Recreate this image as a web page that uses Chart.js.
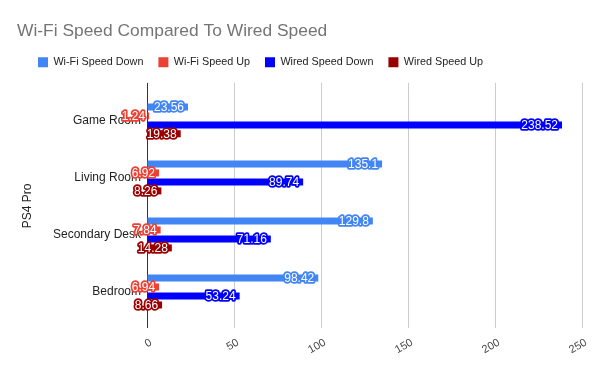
<!DOCTYPE html>
<html lang="en">
<head>
<meta charset="UTF-8">
<title>Wi-Fi Speed Compared To Wired Speed</title>
<script src="https://cdn.jsdelivr.net/npm/chart.js@4.4.1/dist/chart.umd.min.js"></script>
<style>
  * { margin: 0; padding: 0; box-sizing: border-box; }
  body { background: #fff; width: 600px; height: 371px; overflow: hidden; }
  canvas { display: block; }
</style>
</head>
<body>
<canvas id="chart" width="600" height="371"></canvas>
<script>
  const rooms = ['Game Room', 'Living Room', 'Secondary Desk', 'Bedroom'];
  const wifiDown = [23.56, 135.1, 129.8, 98.42];
  const wifiUp = [1.24, 6.92, 7.84, 6.94];
  const wiredDown = [238.52, 89.74, 71.16, 53.24];
  const wiredUp = [19.38, 8.26, 14.28, 8.66];
  const xTicks = [0, 50, 100, 150, 200, 250];

  const FONT = "'Liberation Sans', Arial, sans-serif";

  // value labels drawn just inside the end of each bar
  const barLabels = {
    id: 'barLabels',
    afterDatasetsDraw(chart) {
      const ctx = chart.ctx;
      ctx.save();
      ctx.font = '12px ' + FONT;
      ctx.textAlign = 'right';
      ctx.textBaseline = 'middle';
      ctx.lineJoin = 'round';
      ctx.lineWidth = 3.5;
      chart.data.datasets.forEach((ds, i) => {
        const meta = chart.getDatasetMeta(i);
        meta.data.forEach((bar, j) => {
          const txt = String(ds.data[j]);
          const x = bar.x - 4;
          ctx.strokeStyle = ds.backgroundColor;
          ctx.strokeText(txt, x, bar.y + 0.5);
          ctx.fillStyle = '#fff';
          ctx.fillText(txt, x, bar.y + 0.5);
        });
      });
      ctx.restore();
    }
  };

  // gridlines in the original run a little above the plot area
  const gridTop = {
    id: 'gridTop',
    beforeDatasetsDraw(chart) {
      const ctx = chart.ctx;
      const xs = chart.scales.x;
      const top = chart.chartArea.top;
      ctx.save();
      ctx.lineWidth = 1;
      xs.ticks.forEach((t, i) => {
        const px = Math.round(xs.getPixelForTick(i)) + 0.5;
        ctx.strokeStyle = t.value === 0 ? '#333' : '#ccc';
        ctx.beginPath();
        ctx.moveTo(px, top - 9);
        ctx.lineTo(px, top);
        ctx.stroke();
      });
      ctx.restore();
    }
  };

  // nudge the legend to where the original has it
  const legendShift = {
    id: 'legendShift',
    afterLayout(chart) {
      const lg = chart.legend;
      const dx = 38 - (lg.left + 15);
      lg.left += dx;
      lg.right += dx;
    }
  };

  new Chart(document.getElementById('chart'), {
    type: 'bar',
    data: {
      labels: rooms,
      datasets: [
        { label: 'Wi-Fi Speed Down', data: wifiDown, backgroundColor: '#4285f4' },
        { label: 'Wi-Fi Speed Up', data: wifiUp, backgroundColor: '#ea4335' },
        { label: 'Wired Speed Down', data: wiredDown, backgroundColor: '#0000ff' },
        { label: 'Wired Speed Up', data: wiredUp, backgroundColor: '#990000' }
      ]
    },
    options: {
      indexAxis: 'y',
      responsive: false,
      animation: false,
      devicePixelRatio: 1,
      categoryPercentage: 0.63,
      barPercentage: 0.78,
      layout: { padding: { left: 17, right: 18, top: 0, bottom: 0 } },
      plugins: {
        title: {
          display: true,
          text: 'Wi-Fi Speed Compared To Wired Speed',
          align: 'start',
          color: '#757575',
          font: { family: FONT, size: 17.4, weight: 'normal' },
          padding: { top: 21, bottom: 0 }
        },
        subtitle: {
          display: true,
          text: '',
          weight: 100,
          font: { size: 1 },
          padding: { top: 0, bottom: 13 }
        },
        legend: {
          display: true,
          align: 'start',
          labels: {
            boxWidth: 10,
            boxHeight: 10,
            padding: 15,
            color: '#222',
            font: { family: FONT, size: 10.8 }
          }
        },
        tooltip: { enabled: false }
      },
      scales: {
        x: {
          min: 0,
          max: 250,
          afterBuildTicks(scale) { scale.ticks = xTicks.map(v => ({ value: v })); },
          afterFit(scale) { scale.height = 51; },
          grid: {
            color: c => (c.tick && c.tick.value === 0 ? '#333' : '#ccc'),
            tickLength: 8
          },
          border: { display: false },
          ticks: {
            minRotation: 30,
            maxRotation: 30,
            labelOffset: 4,
            padding: 8,
            color: '#444',
            font: { family: FONT, size: 11 }
          }
        },
        y: {
          afterFit(scale) { scale.width = 130; },
          grid: { display: false, drawTicks: false },
          border: { display: true, color: '#333', width: 1 },
          ticks: {
            color: '#222',
            padding: 6,
            font: { family: FONT, size: 12 }
          },
          title: {
            display: true,
            text: 'PS4 Pro',
            color: '#222',
            font: { family: FONT, size: 12 },
            padding: { top: 3, bottom: 0 }
          }
        }
      }
    },
    plugins: [barLabels, gridTop, legendShift]
  });
</script>
</body>
</html>
